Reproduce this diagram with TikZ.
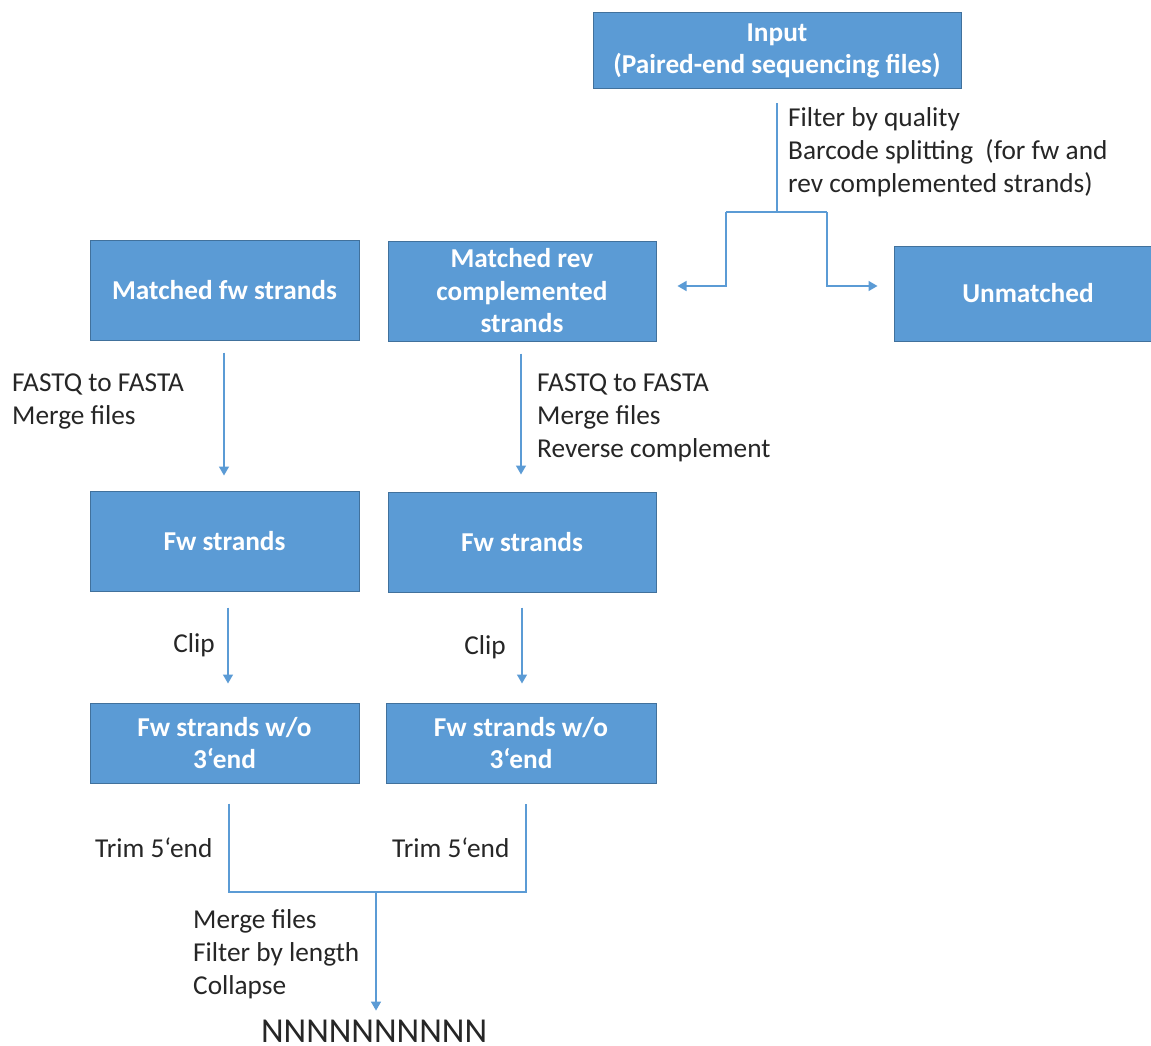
\documentclass[tikz,border=0pt]{standalone}
\usepackage{fontspec}
\setmainfont{Carlito}
\usetikzlibrary{arrows.meta,calc}
\definecolor{boxfill}{HTML}{5B9BD5}
\definecolor{boxline}{HTML}{41719C}
\definecolor{lineblue}{HTML}{5B9BD5}
\begin{document}
\begin{tikzpicture}[x=1pt,y=-1pt,
  box/.style={draw=boxline, line width=1pt, fill=boxfill, text=white,
    font=\fontsize{27.3}{32.5}\selectfont\bfseries, align=center, inner sep=0},
  lbl/.style={font=\fontsize{27.3}{32.8}\selectfont, align=left, inner sep=0, anchor=west, text=black!85},
  conn/.style={draw=lineblue, line width=1.4pt},
  arr/.style={conn, -{Triangle[width=10pt,length=9pt]}}]
\clip (0,0) rectangle (1151,1046);
\fill[white] (0,0) rectangle (1151,1046);
% boxes
\node[box, minimum width=368pt, minimum height=76pt] (input) at (777,51) {Input\\(Paired-end sequencing files)};
\node[box, minimum width=269pt, minimum height=100pt] (mfw) at (224.5,290) {Matched fw strands};
\node[box, minimum width=268pt, minimum height=100pt] (mrev) at (522,291) {Matched rev\\complemented\\strands};
\node[box, minimum width=268pt, minimum height=95pt] (unm) at (1028,293.5) {Unmatched};
\node[box, minimum width=269pt, minimum height=100pt] (fw1) at (224.5,541) {Fw strands};
\node[box, minimum width=268pt, minimum height=100pt] (fw2) at (522,542) {Fw strands};
\node[box, minimum width=269pt, minimum height=80pt] (cl1) at (224.5,743) {Fw strands w/o\\3‘end};
\node[box, minimum width=270pt, minimum height=80pt] (cl2) at (521,743) {Fw strands w/o\\3‘end};
\node[inner sep=0, font=\fontsize{35}{40}\selectfont, text=black!85] (out) at (374,1031) {NNNNNNNNNN};
% labels
\node[lbl] (lfilter) at (788,152) {Filter by quality\\Barcode splitting\ \ (for fw and\\rev complemented strands)};
\node[lbl] (lfq1) at (12,401.5) {FASTQ to FASTA\\Merge files};
\node[lbl] (lfq2) at (537,418) {FASTQ to FASTA\\Merge files\\Reverse complement};
\node[lbl, anchor=center] (lclip1) at (194,645) {Clip};
\node[lbl, anchor=center] (lclip2) at (485,647) {Clip};
\node[lbl] (ltrim1) at (95,848) {Trim 5‘end};
\node[lbl] (ltrim2) at (392,848) {Trim 5‘end};
\node[lbl] (lmerge) at (193,954) {Merge files\\Filter by length\\Collapse};
% connectors
\coordinate (split) at (777,212);
\coordinate (sl) at (726,212);
\coordinate (sr) at (827,212);
\draw[conn] ($(input.south)+(0,14)$) -- (split);
\draw[conn] (sl) -- (sr);
\draw[arr] (sl) |- ($(mrev.east)+(21,-5)$);
\draw[arr] (sr) |- ($(unm.west)+(-16,-7.5)$);
\draw[arr] ($(mfw.south)+(-0.5,12)$) -- ($(fw1.north)+(-0.5,-15)$);
\draw[arr] ($(mrev.south)+(-1,12)$) -- ($(fw2.north)+(-1,-17)$);
\draw[arr] ($(fw1.south)+(3.5,16)$) -- ($(cl1.north)+(3.5,-19)$);
\draw[arr] ($(fw2.south)+(0,15)$) -- ($(cl2.north)+(1,-19)$);
\coordinate (mj) at (376,892);
\draw[conn] ($(cl1.south)+(4.5,20)$) |- (mj) -| ($(cl2.south)+(5,20)$);
\draw[arr] (mj) -- ($(out.north)+(2,-9)$);
\end{tikzpicture}
\end{document}
